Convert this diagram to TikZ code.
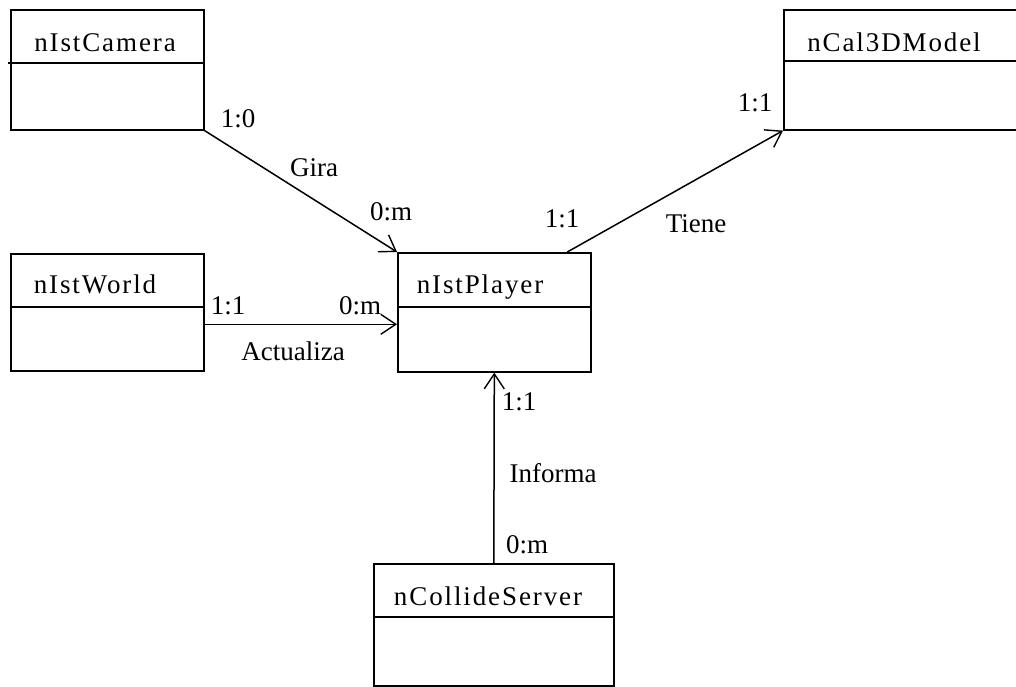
\documentclass[tikz,border=0pt]{standalone}
\usepackage{fontspec}
\setmainfont{Liberation Serif}
\newfontfamily\clsfont[LetterSpace=7]{Liberation Serif}
\usetikzlibrary{arrows.meta,calc}
\tikzset{
  classbox/.style={draw, line width=1.6pt, inner sep=0pt, anchor=north west},
  clsname/.style={anchor=base, inner sep=0pt, font=\clsfont\fontsize{27}{30}\selectfont},
  lbl/.style={anchor=base, inner sep=0pt, font=\fontsize{27}{30}\selectfont},
  divider/.style={line width=1.6pt},
  assoc/.style={line width=1.5pt, -{Straight Barb[length=15pt,width=20pt,line width=1.4pt]}}
}
\begin{document}
\begin{tikzpicture}[x=1pt,y=-1pt]
\useasboundingbox (0,0) rectangle (1016,687);
\clip (0,0) rectangle (1016,687);
\fill[white] (0,0) rectangle (1016,687);
% class boxes
\node[classbox, minimum width=193pt, minimum height=120pt] (cam) at (10,9) {};
\node[classbox, minimum width=250pt, minimum height=120pt] (cal) at (783,9) {};
\node[classbox, minimum width=193pt, minimum height=117pt] (world) at (10,253) {};
\node[classbox, minimum width=193pt, minimum height=119pt] (player) at (397,252) {};
\node[classbox, minimum width=240pt, minimum height=122pt] (coll) at (373,563) {};
% dividers
\draw[divider] ($(cam.north west)+(-2,54)$) -- ($(cam.north east)+(0,54)$);
\draw[divider] ($(cal.north west)+(0,52)$) -- ($(cal.north east)+(0,52)$);
\draw[divider] ($(world.north west)+(0,54)$) -- ($(world.north east)+(0,54)$);
\draw[divider] ($(player.north west)+(0,55)$) -- ($(player.north east)+(0,55)$);
\draw[divider] ($(coll.north west)+(0,54)$) -- ($(coll.north east)+(0,54)$);
% class names
\node[clsname] (camname) at (105,52) {nIstCamera};
\node[clsname] (calname) at (894,52) {nCal3DModel};
\node[clsname] (worldname) at (95,293) {nIstWorld};
\node[clsname] (playername) at (480,293) {nIstPlayer};
\node[clsname] (collname) at (488,605) {nCollideServer};
% connectors
\draw[assoc] (cam.south east) -- (player.north west);
\draw[assoc] ($(player.north)+(73,0)$) -- (cal.south west);
\draw[assoc] ($(world.east)+(0,12)$) -- ($(player.west)+(0,12)$);
\draw[assoc] (coll.north) -- (player.south);
% labels
\node[lbl] (l1) at (238,128) {1:0};
\node[lbl] (l2) at (314,176) {Gira};
\node[lbl] (l3) at (391,220) {0:m};
\node[lbl] (l4) at (755,112) {1:1};
\node[lbl] (l5) at (562,227) {1:1};
\node[lbl] (l6) at (696,232) {Tiene};
\node[lbl] (l7) at (228,314) {1:1};
\node[lbl] (l8) at (360,314) {0:m};
\node[lbl] (l9) at (293,360) {Actualiza};
\node[lbl] (l10) at (519,410) {1:1};
\node[lbl] (l11) at (553,482) {Informa};
\node[lbl] (l12) at (527,553) {0:m};
\end{tikzpicture}
\end{document}
